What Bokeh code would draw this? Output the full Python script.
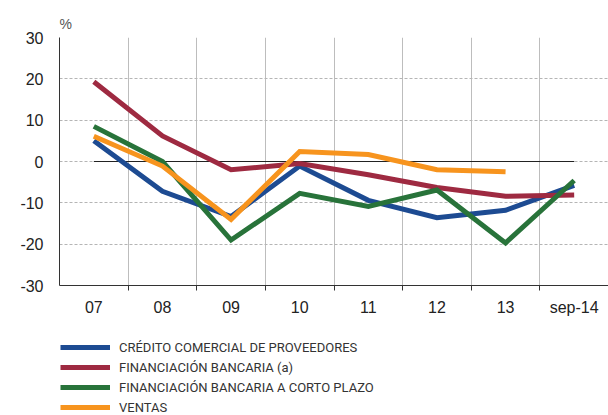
from bokeh.plotting import figure
from bokeh.layouts import column
from bokeh.models import FixedTicker, Legend, LegendItem, Range1d
from bokeh.embed import file_html
from bokeh.resources import INLINE

categories = ["07", "08", "09", "10", "11", "12", "13", "sep-14"]
credito = [5.0, -7.2, -13.3, -1.1, -9.4, -13.6, -11.8, -5.8]
fin_bancaria = [19.3, 6.2, -2.0, -0.5, -3.2, -6.3, -8.4, -8.1]
fin_corto = [8.5, 0.0, -19.0, -7.7, -10.9, -6.9, -19.7, -4.6]
ventas = [6.1, -1.1, -14.0, 2.4, 1.7, -2.0, -2.5]
y_ticks = [-30, -20, -10, 0, 10, 20, 30]
names = ["CRÉDITO COMERCIAL DE PROVEEDORES", "FINANCIACIÓN BANCARIA (a)",
         "FINANCIACIÓN BANCARIA A CORTO PLAZO", "VENTAS"]
colors = ["#1d4b92", "#9e2a41", "#28733a", "#f7941e"]

xs = list(range(len(categories)))
series = [credito, fin_bancaria, fin_corto, ventas]

p = figure(width=608, height=330, output_backend="svg", toolbar_location=None,
           x_range=Range1d(-0.5, len(categories) - 0.5), y_range=Range1d(-30, 30),
           min_border_left=59, min_border_right=0, min_border_top=37, min_border_bottom=45)
p.outline_line_color = None
p.background_fill_color = "white"

# title "%"
p.title.text = "%"
p.title.align = "left"
p.title.text_font = "Liberation Sans"
p.title.text_font_size = "14px"
p.title.text_font_style = "normal"
p.title.text_color = "#555555"
p.title.standoff = 12

# axes
xa = p.xaxis[0]
xa.ticker = FixedTicker(ticks=xs, minor_ticks=[i + 0.5 for i in xs[:-1]])
xa.major_label_overrides = {i: c for i, c in zip(xs, categories)}
xa.major_tick_out = 0
xa.major_tick_in = 0
xa.minor_tick_out = 5
xa.minor_tick_in = 0
xa.minor_tick_line_color = "#333333"
xa.axis_line_color = "#333333"
xa.major_label_text_font = "Liberation Sans"
xa.major_label_text_font_size = "16px"
xa.major_label_text_color = "#222222"
xa.major_label_standoff = 8

ya = p.yaxis[0]
ya.ticker = FixedTicker(ticks=y_ticks)
ya.major_label_overrides = {t: str(t) for t in y_ticks}
ya.major_tick_out = 0
ya.major_tick_in = 0
ya.minor_tick_line_color = None
ya.axis_line_color = "#333333"
ya.major_label_text_font = "Liberation Sans"
ya.major_label_text_font_size = "16px"
ya.major_label_text_color = "#222222"
ya.major_label_standoff = 16

# grids
p.xgrid.ticker = FixedTicker(ticks=[i + 0.5 for i in xs[:-1]])
p.xgrid.grid_line_color = "#bdbdbd"
p.xgrid.grid_line_width = 1
p.ygrid.grid_line_color = "#b5b5b5"
p.ygrid.grid_line_dash = "3 2"
p.ygrid.grid_line_width = 1

# zero line
p.segment(x0=[xs[0]], x1=[xs[-1]], y0=[0], y1=[0], line_color="#222222", line_width=1)

for vals, col in zip(series, colors):
    p.line(xs[:len(vals)], vals, line_color=col, line_width=5, line_join="miter")

# legend figure
lf = figure(width=608, height=85, output_backend="svg", toolbar_location=None,
            x_range=Range1d(0, 1), y_range=Range1d(0, 1),
            min_border=0, min_border_left=0, min_border_right=0,
            min_border_top=0, min_border_bottom=0)
lf.axis.visible = False
lf.grid.visible = False
lf.outline_line_color = None
nan = float("nan")
lrs = [lf.line([nan], [nan], line_color=col, line_width=5) for col in colors]
items = [LegendItem(label=n, renderers=[r]) for n, r in zip(names, lrs)]
legend = Legend(items=items, location=(1, -2), orientation="vertical",
                glyph_width=50, glyph_height=20, label_height=20, label_standoff=9,
                spacing=0, padding=0, margin=0,
                label_text_font="Roboto", label_text_font_size="13px",
                label_text_color="#333333",
                background_fill_alpha=0, border_line_color=None)
lf.add_layout(legend, "center")

layout = column(p, lf, spacing=0)
open("out.html", "w").write(file_html(layout, INLINE))
